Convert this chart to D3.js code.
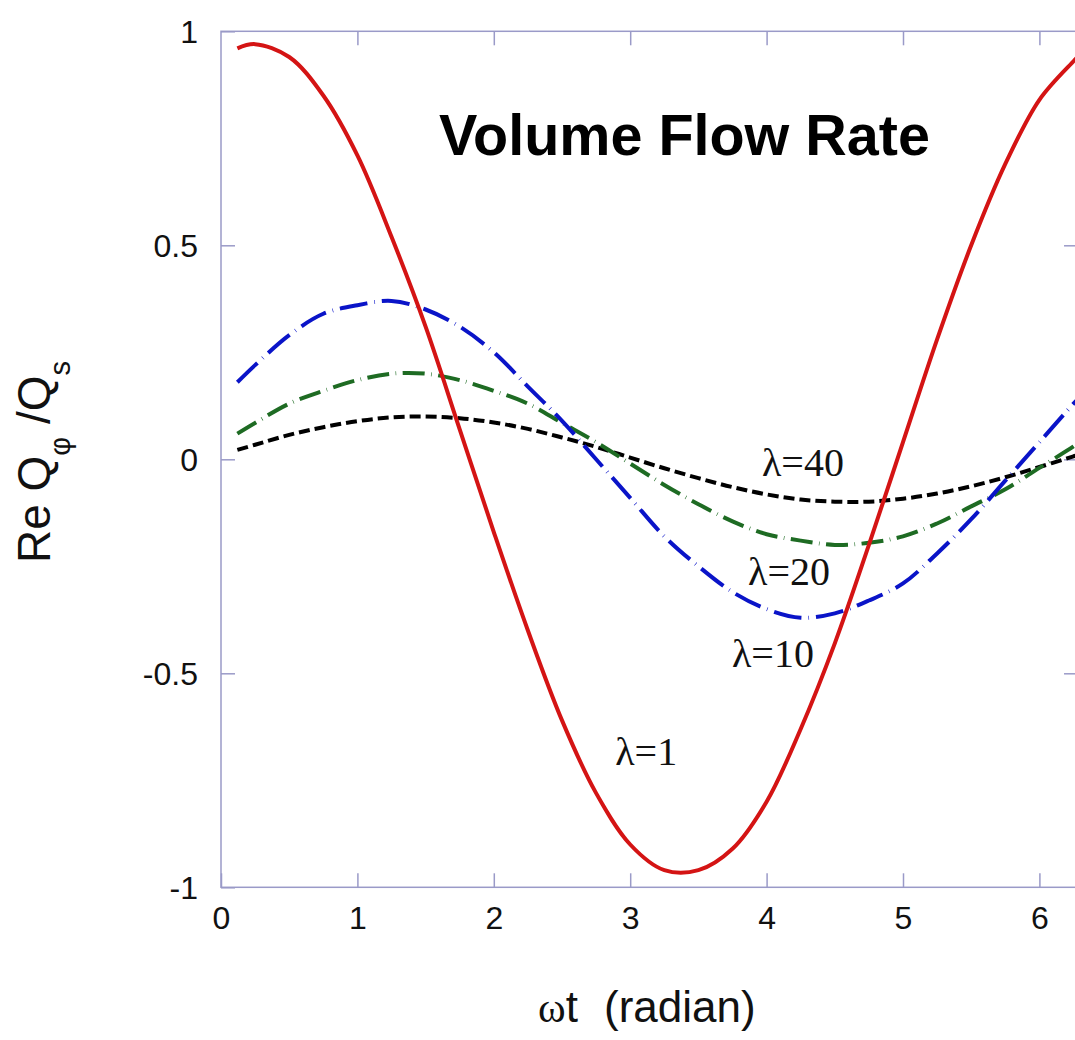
<!DOCTYPE html>
<html>
<head>
<meta charset="utf-8">
<script src="https://cdn.jsdelivr.net/npm/d3@7"></script>
<style>
  html, body { margin: 0; padding: 0; background: #fff; overflow: hidden; }
  svg { display: block; }
</style>
</head>
<body>
<svg id="chart" width="1075" height="1040"></svg>
<script>
// ---- data ----
const omegaT = [0.12, 0.25, 0.5, 0.75, 1.0, 1.25, 1.5, 1.75, 2.0, 2.25, 2.5, 2.75, 3.0,
                3.25, 3.5, 3.75, 4.0, 4.25, 4.5, 4.75, 5.0, 5.25, 5.5, 5.75, 6.0, 6.25, 6.28];
const lambda1  = [0.96, 0.97, 0.94, 0.85, 0.71, 0.52, 0.31, 0.07, -0.17, -0.40, -0.61, -0.78, -0.90,
                  -0.96, -0.96, -0.91, -0.80, -0.63, -0.43, -0.20, 0.04, 0.28, 0.50, 0.69, 0.84, 0.93, 0.94];
const lambda10 = [0.18, 0.22, 0.29, 0.34, 0.36, 0.37, 0.35, 0.31, 0.25, 0.17, 0.09, 0.00, -0.09,
                  -0.18, -0.25, -0.31, -0.35, -0.37, -0.36, -0.33, -0.29, -0.22, -0.14, -0.05, 0.04, 0.13, 0.14];
const lambda20 = [0.06, 0.085, 0.13, 0.16, 0.185, 0.20, 0.20, 0.185, 0.16, 0.13, 0.085, 0.04, -0.01,
                  -0.06, -0.105, -0.145, -0.175, -0.19, -0.20, -0.195, -0.18, -0.15, -0.11, -0.07, -0.02, 0.03, 0.037];
const lambda40 = [0.022, 0.034, 0.057, 0.075, 0.089, 0.098, 0.10, 0.096, 0.086, 0.071, 0.051, 0.029, 0.004,
                  -0.021, -0.044, -0.065, -0.082, -0.094, -0.099, -0.099, -0.092, -0.080, -0.063, -0.042, -0.018, 0.007, 0.01];
const xTicks = [0, 1, 2, 3, 4, 5, 6];
const yTicks = [-1, -0.5, 0, 0.5, 1];
const yTickLabels = ["-1", "-0.5", "0", "0.5", "1"];
const seriesNames = ["λ=1", "λ=10", "λ=20", "λ=40"];
const titleText = "Volume Flow Rate";

// ---- layout ----
const svg = d3.select("#chart");
const plotLeft = 221, plotTop = 31.3, pxPerX = 136.4, plotH = 856;
const xMax = 2 * Math.PI;
const x = d3.scaleLinear().domain([0, xMax]).range([plotLeft, plotLeft + xMax * pxPerX]);
const y = d3.scaleLinear().domain([-1, 1]).range([plotTop + plotH, plotTop]);
const frameColor = "#9a9ac8";
const sans = "'Liberation Sans', Arial, sans-serif";
const serif = "'Liberation Serif', 'Times New Roman', serif";

svg.append("defs").append("clipPath").attr("id", "clip")
  .append("rect").attr("x", x(0)).attr("y", y(1)).attr("width", x(xMax) - x(0)).attr("height", y(-1) - y(1));

// frame
svg.append("rect")
  .attr("x", x(0)).attr("y", y(1))
  .attr("width", x(xMax) - x(0)).attr("height", y(-1) - y(1))
  .attr("fill", "none").attr("stroke", frameColor).attr("stroke-width", 1.5);

// axes with inward ticks
const tickLen = 14;
const xAxisB = d3.axisBottom(x).tickValues(xTicks).tickSize(-tickLen).tickPadding(tickLen + 12).tickFormat(d3.format("d"));
const gxb = svg.append("g").attr("transform", `translate(0,${y(-1)})`).call(xAxisB);
const xAxisT = d3.axisTop(x).tickValues(xTicks.filter(d => d > 0)).tickSize(-tickLen).tickFormat("");
const gxt = svg.append("g").attr("transform", `translate(0,${y(1)})`).call(xAxisT);
const yAxisL = d3.axisLeft(y).tickValues(yTicks).tickSize(-tickLen).tickPadding(tickLen + 9)
  .tickFormat((d, i) => yTickLabels[i]);
const gyl = svg.append("g").attr("transform", `translate(${x(0)},0)`).call(yAxisL);
const yAxisR = d3.axisRight(y).tickValues(yTicks.filter(d => d > -1 && d < 1)).tickSize(-tickLen).tickFormat("");
const gyr = svg.append("g").attr("transform", `translate(${x(xMax)},0)`).call(yAxisR);
[gxb, gxt, gyl, gyr].forEach(g => {
  g.select(".domain").remove();
  g.selectAll(".tick line").attr("stroke", frameColor).attr("stroke-width", 1.5);
  g.selectAll(".tick text").attr("fill", "#111")
    .style("font-family", sans).style("font-size", "32px");
});
gyl.selectAll(".tick text").attr("dy", "0.35em");
gxb.selectAll(".tick text").attr("dy", "0.5em");

// curves
const line = d3.line().x((d, i) => x(omegaT[i])).y(d => y(d)).curve(d3.curveCatmullRom);
const plot = svg.append("g").attr("clip-path", "url(#clip)");
const styles = [
  { data: lambda40, color: "#000000", dash: "11,5" },
  { data: lambda20, color: "#1e6b23", dash: "22,6.5,0.6,6.5" },
  { data: lambda10, color: "#0a14c8", dash: "28,7,0.6,7" },
  { data: lambda1,  color: "#d41414", dash: null }
];
styles.forEach(s => {
  plot.append("path").attr("d", line(s.data))
    .attr("fill", "none").attr("stroke", s.color).attr("stroke-width", 4)
    .attr("stroke-dasharray", s.dash);
});

// series labels
const labelPos = [
  { name: seriesNames[0], lx: 2.89, ly: -0.714 },
  { name: seriesNames[1], lx: 3.746, ly: -0.485 },
  { name: seriesNames[2], lx: 3.864, ly: -0.294 },
  { name: seriesNames[3], lx: 3.966, ly: -0.039 }
];
labelPos.forEach(l => {
  svg.append("text").attr("x", x(l.lx)).attr("y", y(l.ly))
    .attr("text-anchor", "start").attr("fill", "#111")
    .style("font-family", serif).style("font-size", "40px")
    .text(l.name);
});

// title
svg.append("text").attr("x", 684.5).attr("y", 155).attr("text-anchor", "middle")
  .style("font-family", sans).style("font-weight", "bold")
  .style("font-size", "57.5px").attr("fill", "#000").text(titleText);

// x axis title
const xt = svg.append("text").attr("x", 538).attr("y", 1022).attr("text-anchor", "start")
  .attr("fill", "#111").style("font-family", sans).style("font-size", "44px");
xt.append("tspan").style("font-family", serif).style("font-size", "42px").text("ω");
xt.append("tspan").text("t");
xt.append("tspan").attr("x", 604).text("(radian)");

// y axis title
const yt = svg.append("text").attr("transform", "translate(50,462) rotate(-90)")
  .attr("text-anchor", "middle").attr("fill", "#111")
  .style("font-family", sans).style("font-size", "46px");
yt.append("tspan").text("Re Q");
yt.append("tspan").attr("dy", 20).style("font-size", "29px").text("φ");
yt.append("tspan").attr("dy", -20).text(" /Q");
yt.append("tspan").attr("dy", 20).style("font-size", "29px").text("s");
</script>
</body>
</html>
